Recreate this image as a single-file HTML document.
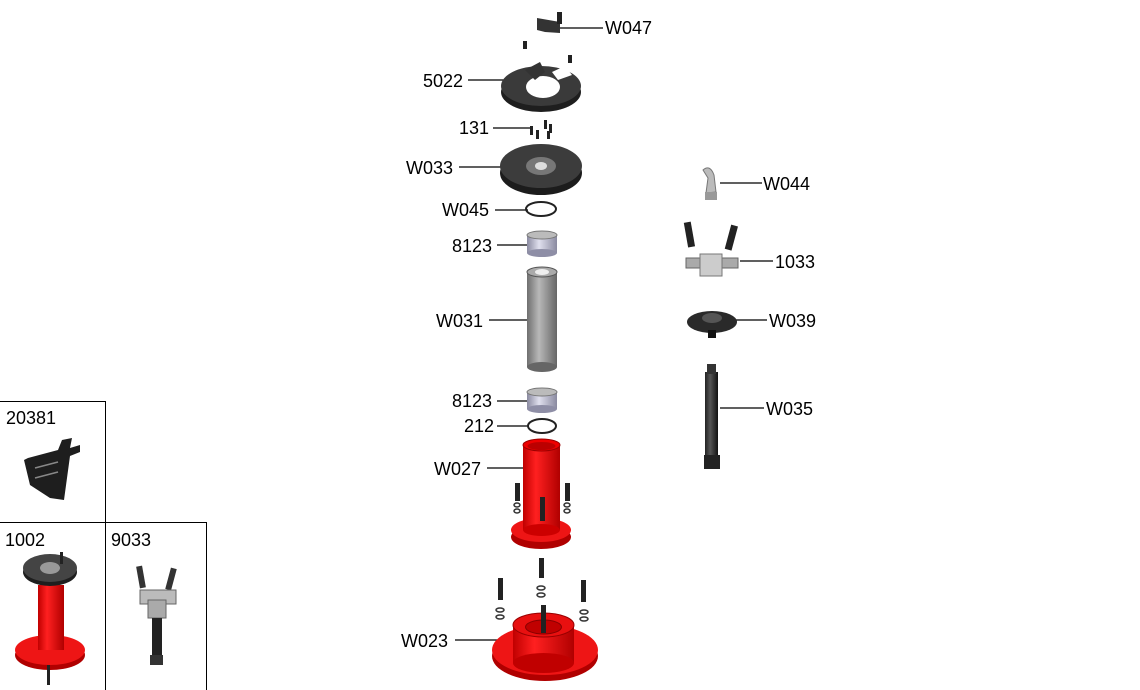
<!DOCTYPE html>
<html><head><meta charset="utf-8"><style>
html,body{margin:0;padding:0;background:#fff;}
svg{display:block;font-family:"Liberation Sans",sans-serif;}
text{font-size:18px;fill:#000;}
</style></head><body>
<svg width="1140" height="690" viewBox="0 0 1140 690">
<defs>
<linearGradient id="red" x1="0" x2="1"><stop offset="0" stop-color="#c00000"/><stop offset=".35" stop-color="#ff2020"/><stop offset="1" stop-color="#b00000"/></linearGradient>
<linearGradient id="gry" x1="0" x2="1"><stop offset="0" stop-color="#6f6f6f"/><stop offset=".4" stop-color="#b8b8b8"/><stop offset="1" stop-color="#666"/></linearGradient>
<linearGradient id="lav" x1="0" x2="1"><stop offset="0" stop-color="#8a8aa0"/><stop offset=".4" stop-color="#e0e0ee"/><stop offset="1" stop-color="#8a8aa0"/></linearGradient>
<linearGradient id="blk" x1="0" x2="1"><stop offset="0" stop-color="#222"/><stop offset=".4" stop-color="#555"/><stop offset="1" stop-color="#111"/></linearGradient>
</defs>
<!-- leader lines -->
<g stroke="#000" stroke-width="1.2">
<line x1="560" y1="28" x2="603" y2="28"/>
<line x1="468" y1="80" x2="535" y2="80"/>
<line x1="493" y1="128" x2="530" y2="128"/>
<line x1="459" y1="167" x2="530" y2="167"/>
<line x1="495" y1="210" x2="528" y2="210"/>
<line x1="497" y1="245" x2="530" y2="245"/>
<line x1="489" y1="320" x2="530" y2="320"/>
<line x1="497" y1="401" x2="530" y2="401"/>
<line x1="497" y1="426" x2="528" y2="426"/>
<line x1="487" y1="468" x2="528" y2="468"/>
<line x1="455" y1="640" x2="500" y2="640"/>
<line x1="720" y1="183" x2="762" y2="183"/>
<line x1="740" y1="261" x2="773" y2="261"/>
<line x1="735" y1="320" x2="767" y2="320"/>
<line x1="720" y1="408" x2="764" y2="408"/>
</g>
<g>
<text x="605" y="34">W047</text>
<text x="423" y="87">5022</text>
<text x="459" y="134">131</text>
<text x="406" y="174">W033</text>
<text x="442" y="216">W045</text>
<text x="452" y="252">8123</text>
<text x="436" y="327">W031</text>
<text x="452" y="407">8123</text>
<text x="464" y="432">212</text>
<text x="434" y="475">W027</text>
<text x="401" y="647">W023</text>
<text x="763" y="190">W044</text>
<text x="775" y="268">1033</text>
<text x="769" y="327">W039</text>
<text x="766" y="415">W035</text>
<text x="6" y="424">20381</text>
<text x="5" y="546">1002</text>
<text x="111" y="546">9033</text>
</g>
<!-- boxes -->
<g fill="none" stroke="#000" stroke-width="1">
<path d="M0 401.5H105.5V690"/>
<path d="M0 522.5H206.5V690"/>
</g>
<!-- W047 -->
<path d="M537 18 L560 22 L560 33 L545 32 L537 30Z" fill="#333"/>
<rect x="557" y="12" width="5" height="12" fill="#222"/>
<!-- screws top -->
<g fill="#222"><rect x="523" y="41" width="4" height="8"/><rect x="568" y="55" width="4" height="8"/>
<rect x="530" y="126" width="3" height="9"/><rect x="536" y="130" width="3" height="9"/><rect x="544" y="120" width="3" height="9"/><rect x="549" y="124" width="3" height="9"/><rect x="547" y="131" width="3" height="8"/></g>
<!-- 5022 -->
<ellipse cx="541" cy="92" rx="40" ry="20" fill="#1e1e1e"/>
<ellipse cx="541" cy="86" rx="40" ry="20" fill="#3a3a3a"/>
<ellipse cx="543" cy="87" rx="17" ry="11" fill="#fff"/>
<path d="M525 70 L540 62 L545 72 L535 80Z" fill="#333"/>
<path d="M552 72 L565 66 L572 75 L558 80Z" fill="#fff"/>
<!-- W033 -->
<ellipse cx="541" cy="173" rx="41" ry="22" fill="#1c1c1c"/>
<ellipse cx="541" cy="166" rx="41" ry="22" fill="#3c3c3c"/>
<ellipse cx="541" cy="166" rx="15" ry="9" fill="#777"/>
<ellipse cx="541" cy="166" rx="6" ry="4" fill="#ddd"/>
<!-- W045 -->
<ellipse cx="541" cy="209" rx="15" ry="7" fill="none" stroke="#222" stroke-width="2"/>
<!-- 8123 -->
<rect x="527" y="235" width="30" height="18" fill="url(#lav)"/>
<ellipse cx="542" cy="235" rx="15" ry="4" fill="#bbb" stroke="#777"/>
<ellipse cx="542" cy="253" rx="15" ry="4" fill="#8e8ea6"/>
<!-- W031 -->
<rect x="527" y="272" width="30" height="95" fill="url(#gry)"/>
<ellipse cx="542" cy="367" rx="15" ry="5" fill="#666"/>
<ellipse cx="542" cy="272" rx="15" ry="5" fill="#aaa" stroke="#555"/>
<ellipse cx="542" cy="272" rx="7" ry="3" fill="#eee"/>
<!-- 8123 b -->
<rect x="527" y="392" width="30" height="17" fill="url(#lav)"/>
<ellipse cx="542" cy="392" rx="15" ry="4" fill="#bbb" stroke="#777"/>
<ellipse cx="542" cy="409" rx="15" ry="4" fill="#8e8ea6"/>
<!-- 212 -->
<ellipse cx="542" cy="426" rx="14" ry="7" fill="none" stroke="#222" stroke-width="2"/>
<!-- W027 -->
<ellipse cx="541" cy="537" rx="30" ry="12" fill="#b00000"/>
<ellipse cx="541" cy="530" rx="30" ry="12" fill="#ee1515"/>
<rect x="523" y="445" width="37" height="85" fill="url(#red)"/>
<ellipse cx="541.5" cy="530" rx="18.5" ry="6" fill="#cc0000"/>
<ellipse cx="541.5" cy="445" rx="18.5" ry="6" fill="#e00" stroke="#900"/>
<ellipse cx="541.5" cy="446" rx="14" ry="4" fill="#b00"/>
<g fill="#222"><rect x="515" y="483" width="5" height="18"/><rect x="565" y="483" width="5" height="18"/><rect x="540" y="497" width="5" height="24"/><rect x="539" y="558" width="5" height="20"/><rect x="498" y="578" width="5" height="22"/><rect x="581" y="580" width="5" height="22"/><rect x="541" y="605" width="5" height="28"/></g>
<g fill="none" stroke="#333" stroke-width="1.5">
<ellipse cx="517" cy="505" rx="3" ry="2"/><ellipse cx="517" cy="511" rx="3" ry="2"/><ellipse cx="567" cy="505" rx="3" ry="2"/><ellipse cx="567" cy="511" rx="3" ry="2"/>
<ellipse cx="541" cy="588" rx="4" ry="2"/><ellipse cx="541" cy="595" rx="4" ry="2"/>
<ellipse cx="500" cy="610" rx="4" ry="2"/><ellipse cx="500" cy="617" rx="4" ry="2"/><ellipse cx="584" cy="612" rx="4" ry="2"/><ellipse cx="584" cy="619" rx="4" ry="2"/>
</g>
<!-- W023 -->
<ellipse cx="545" cy="656" rx="53" ry="25" fill="#b00000"/>
<ellipse cx="545" cy="650" rx="53" ry="25" fill="#ee1515"/>
<rect x="513" y="625" width="61" height="38" fill="url(#red)"/>
<ellipse cx="543.5" cy="663" rx="30.5" ry="10" fill="#c00000"/>
<ellipse cx="543.5" cy="625" rx="30.5" ry="12" fill="#e81010" stroke="#900"/>
<ellipse cx="543.5" cy="627" rx="18" ry="7" fill="#c00000" stroke="#800"/>
<rect x="541" y="605" width="5" height="28" fill="#222"/>
<!-- W044 -->
<path d="M703 170 Q710 164 714 175 L716 192 L706 193 L708 178Z" fill="#bbb" stroke="#777"/>
<rect x="705" y="192" width="12" height="8" fill="#999"/>
<!-- 1033 -->
<g fill="#222"><rect x="686" y="222" width="7" height="25" transform="rotate(-10 690 235)"/><rect x="728" y="225" width="7" height="25" transform="rotate(15 731 237)"/></g>
<rect x="686" y="258" width="52" height="10" fill="#aaa" stroke="#666"/>
<rect x="700" y="254" width="22" height="22" fill="#ccc" stroke="#777"/>
<!-- W039 -->
<ellipse cx="712" cy="322" rx="25" ry="11" fill="#2a2a2a"/>
<ellipse cx="712" cy="318" rx="10" ry="5" fill="#555"/>
<rect x="708" y="330" width="8" height="8" fill="#111"/>
<!-- W035 -->
<rect x="705" y="372" width="13" height="90" fill="url(#blk)"/>
<rect x="707" y="364" width="9" height="10" fill="#333"/>
<rect x="704" y="455" width="16" height="14" fill="#222"/>
<!-- 20381 -->
<path d="M28 458 L58 450 L62 440 L72 438 L70 448 L80 445 L80 452 L70 456 L64 500 L50 498 L30 485 L24 460Z" fill="#1e1e1e"/>
<g stroke="#888" stroke-width="1.5"><line x1="35" y1="468" x2="58" y2="462"/><line x1="35" y1="478" x2="58" y2="472"/></g>
<!-- 1002 -->
<ellipse cx="50" cy="655" rx="35" ry="15" fill="#b00000"/>
<ellipse cx="50" cy="650" rx="35" ry="15" fill="#ee1515"/>
<rect x="38" y="585" width="26" height="65" fill="url(#red)"/>
<ellipse cx="50" cy="572" rx="27" ry="14" fill="#1e1e1e"/>
<ellipse cx="50" cy="568" rx="27" ry="14" fill="#444"/>
<ellipse cx="50" cy="568" rx="10" ry="6" fill="#999"/>
<rect x="60" y="552" width="3" height="12" fill="#222"/>
<rect x="47" y="665" width="3" height="20" fill="#222"/>
<!-- 9033 -->
<g fill="#333"><rect x="138" y="566" width="6" height="22" transform="rotate(-10 141 577)"/><rect x="168" y="568" width="6" height="22" transform="rotate(15 171 579)"/></g>
<rect x="140" y="590" width="36" height="14" fill="#bbb" stroke="#666"/>
<rect x="148" y="600" width="18" height="18" fill="#aaa" stroke="#666"/>
<rect x="152" y="618" width="10" height="40" fill="#222"/>
<rect x="150" y="655" width="13" height="10" fill="#333"/>
</svg>
</body></html>
